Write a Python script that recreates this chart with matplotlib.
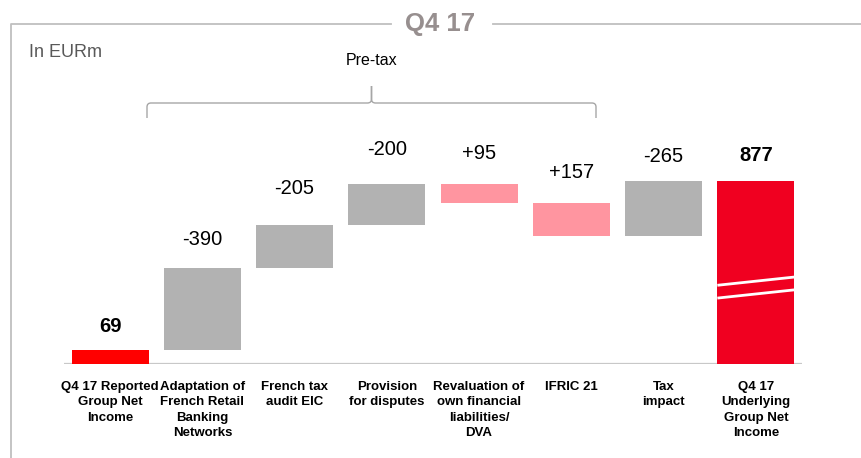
import matplotlib
matplotlib.use("Agg")
import matplotlib.pyplot as plt
import matplotlib.transforms as mtransforms
from matplotlib.path import Path
from matplotlib.patches import PathPatch
from matplotlib.lines import Line2D

plt.rcParams['font.family'] = ['Liberation Sans', 'DejaVu Sans']

# ---------------- data ----------------
categories = [
    "Q4 17 Reported\nGroup Net\nIncome",
    "Adaptation of\nFrench Retail\nBanking\nNetworks",
    "French tax\naudit EIC",
    "Provision\nfor disputes",
    "Revaluation of\nown financial\nliabilities/\nDVA",
    "IFRIC 21",
    "Tax\nimpact",
    "Q4 17\nUnderlying\nGroup Net\nIncome",
]
values = [69, -390, -205, -200, 95, 157, -265, 877]
kinds = ["total", "adj", "adj", "adj", "adj", "adj", "adj", "total"]
value_labels = ["69", "-390", "-205", "-200", "+95", "+157", "-265", "877"]
title = "Q4 17"
unit_label = "In EURm"
bracket_label = "Pre-tax"

# ---------------- style ----------------
W, H = 862, 458
COL_RED = "#FF0000"
COL_RED2 = "#F00020"
COL_GRAY = "#B2B2B2"
COL_PINK = "#FF95A0"
COL_FRAME = "#BFBFBF"
label_offset_px = [23, 29, 37, 34, 30, 31, 24, 25]

fig = plt.figure(figsize=(W / 100, H / 100), dpi=100)
ax = fig.add_axes([64 / W, 1 - 364 / H, 738 / W, 234 / H])
ax.set_xlim(-0.5, 7.5)
ax.set_ylim(0, 1121)
ax.axis("off")

# waterfall geometry
bottoms, heights, colors = [], [], []
cum = 0
for i, (v, k) in enumerate(zip(values, kinds)):
    if k == "total":
        bottoms.append(0)
        heights.append(v)
        cum = v
        colors.append(COL_RED if i == 0 else COL_RED2)
    else:
        new = cum - v
        bottoms.append(min(cum, new))
        heights.append(abs(v))
        colors.append(COL_PINK if v > 0 else COL_GRAY)
        cum = new

xs = list(range(len(values)))
ax.bar(xs, heights, bottom=bottoms, width=0.835, color=colors, zorder=2)
ax.axhline(0, color="#C8C8C8", lw=1.6, zorder=1, xmin=0, xmax=1)

# value labels
for i, (x, b, h) in enumerate(zip(xs, bottoms, heights)):
    bold = kinds[i] == "total"
    ax.annotate(value_labels[i], (x, b + h), xytext=(0, label_offset_px[i] * 0.72),
                textcoords="offset points", ha="center", va="center",
                fontsize=14.5, fontweight="bold" if bold else "normal",
                color="black", zorder=3)

# break marks on last bar
last = len(values) - 1
hw = 0.835 / 2
for y0, y1 in [(0.43, 0.475), (0.36, 0.405)]:
    ax.plot([last - hw, last + hw], [heights[last] * y0, heights[last] * y1],
            color="white", lw=2.0, zorder=3, solid_capstyle="butt")

# category labels
tr = mtransforms.blended_transform_factory(ax.transData, fig.transFigure)
for x, lab in zip(xs, categories):
    ax.text(x, 1 - 381 / H, lab, transform=tr, ha="center", va="top",
            multialignment="center", fontsize=9.5, fontweight="bold",
            linespacing=1.38, color="black")

# frame + title
def fx(px):
    return px / W

def fy(py):
    return 1 - py / H

fig.add_artist(Line2D([fx(11.5), fx(11.5), fx(391)], [fy(458), fy(23.5), fy(23.5)],
                      color=COL_FRAME, lw=1.3))
fig.add_artist(Line2D([fx(493), fx(862)], [fy(23.5), fy(23.5)], color=COL_FRAME, lw=1.3))
fig.text(fx(440.5), fy(23.5), title, ha="center", va="center", fontsize=18.5,
         fontweight="bold", color="#978F8F")
fig.text(fx(29), fy(57), unit_label, ha="left", va="baseline", fontsize=13, color="#595959")

# brace over pre-tax items
L, R, C = 147, 596, 371.5
yb, ye, yt, r = 103, 118, 86, 4
pts = [(L, ye), (L, yb + r), (L, yb), (L + r, yb), (C - r, yb), (C, yb), (C, yb - r),
       (C, yt), (C, yb - r), (C, yb), (C + r, yb), (R - r, yb), (R, yb), (R, yb + r), (R, ye)]
codes = [Path.MOVETO, Path.LINETO, Path.CURVE3, Path.CURVE3, Path.LINETO, Path.CURVE3,
         Path.CURVE3, Path.LINETO, Path.LINETO, Path.CURVE3, Path.CURVE3, Path.LINETO,
         Path.CURVE3, Path.CURVE3, Path.LINETO]
path = Path([(fx(px), fy(py)) for px, py in pts], codes)
fig.add_artist(PathPatch(path, transform=fig.transFigure, fill=False,
                         edgecolor="#A6A6A6", lw=1.0))
fig.text(fx(C), fy(65), bracket_label, ha="center", va="baseline", fontsize=11.5, color="black")

fig.savefig("out.png", dpi=100)
